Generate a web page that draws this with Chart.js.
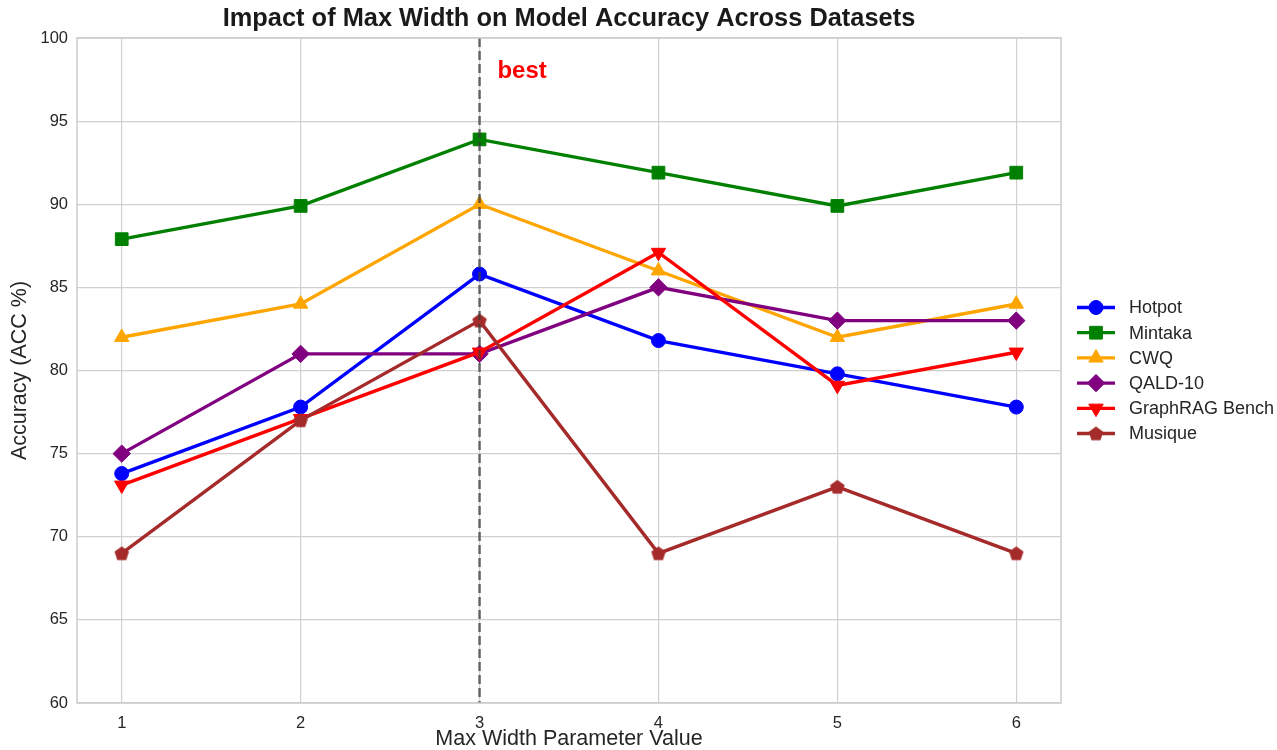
<!DOCTYPE html>
<html>
<head>
<meta charset="utf-8">
<script src="https://cdn.jsdelivr.net/npm/chart.js@4.4.1/dist/chart.umd.min.js"></script>
<style>
html, body { margin: 0; padding: 0; background: #fff; }
#wrap { width: 1277px; height: 750px; }
</style>
</head>
<body>
<div id="wrap"><canvas id="chart"></canvas></div>
<script>
// max width values on the x axis
const widths = [1, 2, 3, 4, 5, 6];
const yTicks = [60, 65, 70, 75, 80, 85, 90, 95, 100];
const bestWidth = 3;

// accuracy per dataset
const hotpot   = [73.8, 77.8, 85.8, 81.8, 79.8, 77.8];
const mintaka  = [87.9, 89.9, 93.9, 91.9, 89.9, 91.9];
const cwq      = [82, 84, 90, 86, 82, 84];
const qald10   = [75, 81, 81, 85, 83, 83];
const graphrag = [73.1, 77.1, 81.1, 87.1, 79.1, 81.1];
const musique  = [69, 77, 83, 69, 73, 69];

const font = '"Liberation Sans", Arial, sans-serif';
const textColor = '#262626';
const gridColor = '#d0d0d0';

// matplotlib-like pentagon marker
function makePentagon(color) {
    const c = document.createElement('canvas');
    c.width = 18; c.height = 18;
    const g = c.getContext('2d');
    g.fillStyle = color;
    g.beginPath();
    for (let i = 0; i < 5; i++) {
        const a = -Math.PI / 2 + i * 2 * Math.PI / 5;
        const px = 9 + 7.6 * Math.cos(a), py = 9.7 + 7.6 * Math.sin(a);
        if (i === 0) g.moveTo(px, py); else g.lineTo(px, py);
    }
    g.closePath();
    g.fill();
    return c;
}

const series = [
    { label: 'Hotpot', values: hotpot, color: 'blue', style: 'circle', radius: 7, rotation: 0 },
    { label: 'Mintaka', values: mintaka, color: 'green', style: 'rect', radius: 9, rotation: 0 },
    { label: 'CWQ', values: cwq, color: 'orange', style: 'triangle', radius: 8.3, rotation: 0 },
    { label: 'QALD-10', values: qald10, color: 'purple', style: 'rectRot', radius: 8.7, rotation: 0 },
    { label: 'GraphRAG Bench', values: graphrag, color: 'red', style: 'triangle', radius: 8.3, rotation: 180 },
    { label: 'Musique', values: musique, color: 'brown', style: makePentagon('brown'), radius: 7.5, rotation: 0 }
];

const decor = {
    id: 'decor',
    afterDatasetsDraw(chart) {
        const { ctx, chartArea: a, scales: { x, y } } = chart;
        const bx = x.getPixelForValue(bestWidth);
        ctx.save();
        ctx.strokeStyle = 'rgba(60,60,60,0.75)';
        ctx.lineWidth = 2.5;
        ctx.setLineDash([9, 4]);
        ctx.beginPath();
        ctx.moveTo(bx, a.top);
        ctx.lineTo(bx, a.bottom);
        ctx.stroke();
        ctx.setLineDash([]);

        ctx.fillStyle = 'red';
        ctx.font = 'bold 24px ' + font;
        ctx.textAlign = 'left';
        ctx.textBaseline = 'middle';
        ctx.fillText('best', x.getPixelForValue(bestWidth + 0.1), y.getPixelForValue(98.0));
        ctx.restore();
    },
    afterDraw(chart) {
        const { ctx, chartArea: a } = chart;
        ctx.save();
        // plot frame
        ctx.strokeStyle = '#cccccc';
        ctx.lineWidth = 1.5;
        ctx.strokeRect(a.left, a.top, a.right - a.left, a.bottom - a.top);

        // title
        ctx.fillStyle = '#1a1a1a';
        ctx.font = 'bold 25.4px ' + font;
        ctx.textAlign = 'center';
        ctx.textBaseline = 'middle';
        ctx.fillText('Impact of Max Width on Model Accuracy Across Datasets', (a.left + a.right) / 2, 19);

        // legend
        const rowH = 25.2;
        const midY = (a.top + a.bottom) / 2;
        const startY = midY - rowH * (series.length - 1) / 2;
        const lx = a.right + 16;
        ctx.font = '18px ' + font;
        ctx.textAlign = 'left';
        series.forEach((s, i) => {
            const yy = startY + i * rowH;
            ctx.strokeStyle = s.color;
            ctx.lineWidth = 3.3;
            ctx.beginPath();
            ctx.moveTo(lx, yy);
            ctx.lineTo(lx + 38, yy);
            ctx.stroke();
            ctx.fillStyle = s.color;
            ctx.strokeStyle = s.color;
            ctx.lineWidth = 1;
            Chart.helpers.drawPoint(ctx, {
                pointStyle: s.style, radius: s.radius, rotation: s.rotation, borderWidth: 1
            }, lx + 19, yy);
            ctx.fillStyle = textColor;
            ctx.fillText(s.label, lx + 52, yy + 1);
        });
        ctx.restore();
    }
};

new Chart(document.getElementById('chart').getContext('2d'), {
    type: 'line',
    data: {
        datasets: series.map((s, i) => ({
            label: s.label,
            data: widths.map((w, j) => ({ x: w, y: s.values[j] })),
            borderColor: s.color,
            backgroundColor: s.color,
            borderWidth: 3.4,
            pointStyle: s.style,
            pointRadius: s.radius,
            pointRotation: s.rotation,
            pointBackgroundColor: s.color,
            pointBorderColor: s.color,
            pointBorderWidth: 1,
            tension: 0,
            fill: false,
            order: series.length - i
        }))
    },
    options: {
        responsive: true,
        maintainAspectRatio: false,
        animation: false,
        layout: { padding: { top: 38, right: 216, bottom: 0, left: 0 } },
        plugins: {
            legend: { display: false },
            tooltip: { enabled: false }
        },
        scales: {
            x: {
                type: 'linear',
                min: 0.75,
                max: 6.25,
                afterBuildTicks: s => { s.ticks = widths.map(v => ({ value: v })); },
                afterFit: s => { s.height = 47; },
                grid: { color: gridColor, lineWidth: 1.2, drawTicks: false },
                border: { display: false },
                ticks: { font: { family: font, size: 16.5 }, color: textColor, padding: 11 },
                title: {
                    display: true, text: 'Max Width Parameter Value',
                    font: { family: font, size: 21.5, lineHeight: 1.0 }, color: textColor, padding: { top: 0, bottom: 0 }
                }
            },
            y: {
                min: 60,
                max: 100,
                afterBuildTicks: s => { s.ticks = yTicks.map(v => ({ value: v })); },
                afterFit: s => { s.width = 77; },
                grid: { color: gridColor, lineWidth: 1.2, drawTicks: false },
                border: { display: false },
                ticks: { font: { family: font, size: 16.5 }, color: textColor, padding: 9 },
                title: {
                    display: true, text: 'Accuracy (ACC %)',
                    font: { family: font, size: 21.5, lineHeight: 1.0 }, color: textColor, padding: { top: 9, bottom: 0 }
                }
            }
        }
    },
    plugins: [decor]
});
</script>
</body>
</html>
